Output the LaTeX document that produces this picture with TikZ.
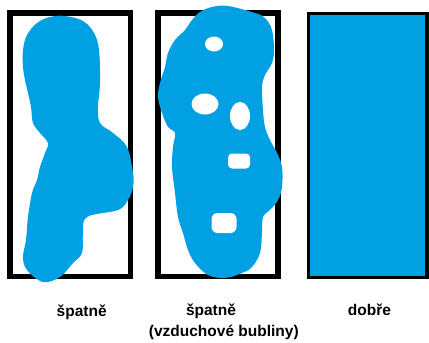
\documentclass[tikz,border=0pt]{standalone}
\usepackage{fontspec}
\setmainfont{Liberation Sans}
\usepackage{tikz}
\usetikzlibrary{positioning}

\definecolor{voda}{RGB}{0,160,227}

\tikzset{
  ramec/.style = {draw=black, line width=#1},
  ramec/.default = 5.7pt,
  skvrna/.style = {fill=voda, draw=none},
  bublina/.style = {fill=white, draw=none},
  popis/.style = {font=\fontsize{15.5}{18}\selectfont\bfseries, anchor=base, inner sep=0pt}
}

\begin{document}
\begin{tikzpicture}[x=1pt, y=-1pt]
        \useasboundingbox (0,0) rectangle (429,343);
        % ramecky
        \draw[ramec] (10.2,12.8) rectangle (130.5,276.5);
        \draw[ramec] (157.9,13.3) rectangle (278,276.5);
        \draw[ramec=3.5pt, fill=voda] (308.5,13.7) rectangle (427,277.3);
        % spatne -- nerovnomerne nanesene
        \fill[skvrna] plot[smooth cycle, tension=0.6] coordinates {
          (65,16) (83,21) (94,33) (99,50) (100,83) (98,107) (100,123)
          (113,133) (127,147) (133,173) (133,187) (128,200) (118,210)
          (87,217) (83,233) (82,253) (73,263) (60,277) (43,282) (27,270)
          (23,257) (26,240) (28,217) (32,193) (37,180) (40,167) (45,153)
          (48,143) (40,133) (33,123) (31,107) (28,93) (25,80) (23,67)
          (23,50) (27,35) (37,23) (50,17)};
        % spatne -- bubliny
        \fill[skvrna] plot[smooth cycle, tension=0.6] coordinates {
          (228,6) (255,13) (265,18) (272,30) (274,50) (272,63) (265,75)
          (262,87) (263,110) (265,127) (270,140) (277,153) (282,167)
          (282,187) (278,200) (270,210) (263,217) (262,233) (260,253)
          (252,267) (242,273) (225,278) (208,275) (195,263) (188,250)
          (183,233) (178,217) (175,193) (172,167) (173,147) (175,133)
          (168,127) (162,113) (158,97) (160,83) (165,67) (168,53)
          (175,40) (185,30) (192,20) (200,12) (212,7)};
        \fill[bublina] (214,44) ellipse (9 and 7.5);
        \fill[bublina] (205,104) ellipse (13.5 and 10.5);
        \fill[voda] (208,104) circle (0.5);
        \fill[bublina] (240,116) ellipse (10 and 14);
        \fill[bublina, rounded corners=4pt] (228,153.5) rectangle (250,168.5);
        \fill[bublina, rounded corners=6pt] (211.5,213) rectangle (236.5,233);
        % popisky
        \node[popis] (spatne1) at (81.7,316) {špatně};
        \node[popis] (spatne2) at (211,315.7) {špatně};
        \node[popis] (bubliny) at (223.8,336.7) {(vzduchové bubliny)};
        \node[popis] (dobre) at (369.5,315) {dobře};
\end{tikzpicture}
\end{document}
